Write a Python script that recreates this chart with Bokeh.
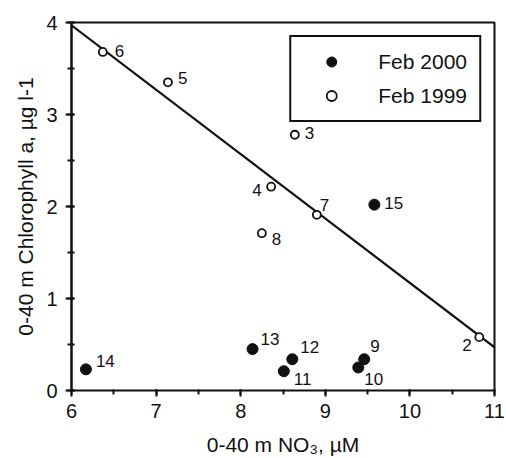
from bokeh.plotting import figure
from bokeh.models import ColumnDataSource, Legend, LegendItem, SingleIntervalTicker, Range1d
from bokeh.core.properties import value
from bokeh.embed import file_html
from bokeh.resources import INLINE

# Feb 1999 (open circles)
lab_1999 = ["2", "3", "4", "5", "6", "7", "8"]
x_1999 = [10.82, 8.64, 8.36, 7.14, 6.37, 8.90, 8.25]
y_1999 = [0.58, 2.78, 2.215, 3.35, 3.68, 1.91, 1.71]

# Feb 2000 (filled circles)
lab_2000 = ["9", "10", "11", "12", "13", "14", "15"]
x_2000 = [9.46, 9.39, 8.51, 8.61, 8.14, 6.17, 9.58]
y_2000 = [0.34, 0.25, 0.21, 0.34, 0.45, 0.23, 2.02]

# regression line end points
fit_x = [6.0, 11.0]
fit_y = [3.97, 0.47]

# label offsets in screen pixels (dx, dy)
off_1999 = {"2": (-17, 8), "3": (10, -2), "4": (-19, 3), "5": (10, -4),
            "6": (12, -1), "7": (3, -10), "8": (10, 6)}
off_2000 = {"9": (6, -13), "10": (6, 11), "11": (10, 8), "12": (8, -12),
            "13": (8, -10), "14": (10, -8), "15": (10, -2)}

FONT = "Liberation Sans"
INK = "#111111"

p = figure(width=506, height=458, output_backend="svg", toolbar_location=None,
           x_range=Range1d(6, 11), y_range=Range1d(0, 4),
           min_border_left=71, min_border_right=12, min_border_top=22, min_border_bottom=67)
p.outline_line_color = INK
p.outline_line_width = 2
p.outline_line_alpha = 1
p.xgrid.visible = False
p.ygrid.visible = False

p.xaxis.ticker = SingleIntervalTicker(interval=1, num_minor_ticks=2)
p.yaxis.ticker = SingleIntervalTicker(interval=1, num_minor_ticks=2)
p.axis.axis_line_color = INK
p.axis.major_tick_line_color = INK
p.axis.major_tick_line_width = 2
p.axis.minor_tick_line_color = INK
p.axis.minor_tick_line_width = 2
p.axis.major_tick_out = 6
p.axis.minor_tick_out = 4
p.xaxis.axis_line_width = 1
p.xaxis.major_tick_in = 1
p.xaxis.minor_tick_in = 1
p.yaxis.axis_line_width = 2
p.yaxis.major_tick_in = 3
p.yaxis.minor_tick_in = 3
p.axis.major_label_text_font = FONT
p.axis.major_label_text_font_size = "20px"
p.axis.major_label_text_color = INK
p.axis.axis_label_text_font = FONT
p.axis.axis_label_text_font_size = "21px"
p.axis.axis_label_text_font_style = "normal"
p.axis.axis_label_text_color = INK

p.xaxis.major_label_standoff = 7
p.yaxis.major_label_standoff = 8
p.xaxis.axis_label = "0-40 m NO₃, µM"
p.yaxis.axis_label = "0-40 m Chlorophyll a, µg l-1"
p.xaxis.axis_label_standoff = 12
p.yaxis.axis_label_standoff = 6

# regression line
p.line(fit_x, fit_y, line_color=INK, line_width=2.2)

src99 = ColumnDataSource(dict(x=x_1999, y=y_1999, t=lab_1999,
                              dx=[off_1999[l][0] for l in lab_1999],
                              dy=[off_1999[l][1] for l in lab_1999]))
src00 = ColumnDataSource(dict(x=x_2000, y=y_2000, t=lab_2000,
                              dx=[off_2000[l][0] for l in lab_2000],
                              dy=[off_2000[l][1] for l in lab_2000]))

r00 = p.scatter("x", "y", source=src00, size=11, marker="circle",
                fill_color=INK, line_color=INK)
r99 = p.scatter("x", "y", source=src99, size=8, marker="circle",
                fill_color="white", line_color=INK, line_width=1.8)

for src in (src99, src00):
    p.text("x", "y", text="t", source=src, x_offset="dx", y_offset="dy",
           text_font=value(FONT), text_font_size="17px", text_color=INK,
           text_align="left", text_baseline="middle")

legend = Legend(items=[LegendItem(label="Feb 2000", renderers=[r00]),
                       LegendItem(label="Feb 1999", renderers=[r99])],
                location="top_right")
legend.border_line_color = INK
legend.border_line_width = 2
legend.border_line_alpha = 1
legend.background_fill_alpha = 1
legend.label_text_font = FONT
legend.label_text_font_size = "21px"
legend.label_text_color = INK
legend.padding = 12
legend.margin = 13
legend.glyph_width = 56
legend.glyph_height = 25
legend.label_height = 25
legend.label_standoff = 19
legend.spacing = 9
p.add_layout(legend)

open("out.html", "w").write(file_html(p, INLINE))
